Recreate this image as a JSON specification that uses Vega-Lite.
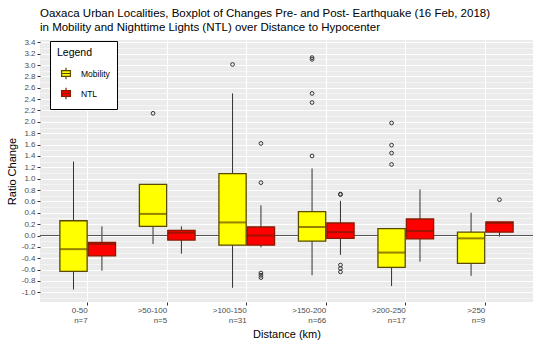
{
  "$schema": "https://vega.github.io/schema/vega-lite/v6.json",
  "width": 493,
  "height": 262,
  "autosize": {"type": "none"},
  "padding": {"left": 40, "top": 40, "right": 17, "bottom": 43},
  "background": "white",
  "title": {
    "text": ["Oaxaca Urban Localities, Boxplot of Changes Pre- and Post- Earthquake (16 Feb, 2018)", "in Mobility and Nighttime Lights (NTL) over Distance to Hypocenter"],
    "anchor": "start",
    "frame": "group",
    "offset": 5,
    "font": "Liberation Sans",
    "fontSize": 11.5,
    "fontWeight": "normal",
    "color": "black",
    "lineHeight": 14
  },
  "config": {
    "view": {"fill": "#EBEBEB", "stroke": null},
    "axis": {
      "labelFont": "Liberation Sans",
      "titleFont": "Liberation Sans",
      "labelColor": "#4D4D4D",
      "labelFontSize": 8,
      "titleFontSize": 11,
      "titleFontWeight": "normal",
      "titleColor": "black",
      "tickColor": "#333333",
      "tickSize": 3,
      "domain": false,
      "gridColor": "white"
    }
  },
  "resolve": {"axis": {"y": "independent"}},
  "datasets": {
    "boxes": [
      {"dist": "0-50", "var": "Mobility", "lower": -0.95, "q1": -0.63, "median": -0.24, "q3": 0.26, "upper": 1.30},
      {"dist": "0-50", "var": "NTL", "lower": -0.62, "q1": -0.36, "median": -0.15, "q3": -0.12, "upper": 0.16},
      {"dist": ">50-100", "var": "Mobility", "lower": -0.15, "q1": 0.16, "median": 0.38, "q3": 0.90, "upper": 0.90},
      {"dist": ">50-100", "var": "NTL", "lower": -0.32, "q1": -0.08, "median": 0.05, "q3": 0.09, "upper": 0.16},
      {"dist": ">100-150", "var": "Mobility", "lower": -0.92, "q1": -0.17, "median": 0.23, "q3": 1.09, "upper": 2.50},
      {"dist": ">100-150", "var": "NTL", "lower": -0.21, "q1": -0.17, "median": 0.0, "q3": 0.15, "upper": 0.53},
      {"dist": ">150-200", "var": "Mobility", "lower": -0.70, "q1": -0.10, "median": 0.15, "q3": 0.42, "upper": 1.18},
      {"dist": ">150-200", "var": "NTL", "lower": -0.34, "q1": -0.05, "median": 0.06, "q3": 0.22, "upper": 0.61},
      {"dist": ">200-250", "var": "Mobility", "lower": -0.89, "q1": -0.56, "median": -0.30, "q3": 0.12, "upper": 0.12},
      {"dist": ">200-250", "var": "NTL", "lower": -0.46, "q1": -0.06, "median": 0.08, "q3": 0.29, "upper": 0.81},
      {"dist": ">250", "var": "Mobility", "lower": -0.71, "q1": -0.49, "median": -0.05, "q3": 0.06, "upper": 0.40},
      {"dist": ">250", "var": "NTL", "lower": -0.02, "q1": 0.06, "median": 0.22, "q3": 0.24, "upper": 0.24}
    ],
    "outliers": [
      {"dist": ">50-100", "var": "Mobility", "value": 2.15},
      {"dist": ">100-150", "var": "Mobility", "value": 3.01},
      {"dist": ">150-200", "var": "Mobility", "value": 3.13},
      {"dist": ">150-200", "var": "Mobility", "value": 3.10},
      {"dist": ">150-200", "var": "Mobility", "value": 2.50},
      {"dist": ">150-200", "var": "Mobility", "value": 2.34},
      {"dist": ">150-200", "var": "Mobility", "value": 1.40},
      {"dist": ">200-250", "var": "Mobility", "value": 1.98},
      {"dist": ">200-250", "var": "Mobility", "value": 1.59},
      {"dist": ">200-250", "var": "Mobility", "value": 1.45},
      {"dist": ">200-250", "var": "Mobility", "value": 1.25},
      {"dist": ">100-150", "var": "NTL", "value": 1.62},
      {"dist": ">100-150", "var": "NTL", "value": 0.93},
      {"dist": ">100-150", "var": "NTL", "value": -0.66},
      {"dist": ">100-150", "var": "NTL", "value": -0.70},
      {"dist": ">100-150", "var": "NTL", "value": -0.74},
      {"dist": ">150-200", "var": "NTL", "value": 0.72},
      {"dist": ">150-200", "var": "NTL", "value": 0.73},
      {"dist": ">150-200", "var": "NTL", "value": -0.52},
      {"dist": ">150-200", "var": "NTL", "value": -0.58},
      {"dist": ">150-200", "var": "NTL", "value": -0.64},
      {"dist": ">250", "var": "NTL", "value": 0.63}
    ]
  },
  "layer": [
    {
      "data": {"name": "boxes"},
      "mark": {"type": "rule", "color": "#333333", "strokeWidth": 1},
      "encoding": {
        "x": {"field": "dist", "type": "nominal", "sort": ["0-50", ">50-100", ">100-150", ">150-200", ">200-250", ">250"]},
        "xOffset": {"field": "var", "type": "nominal"},
        "y": {
          "field": "lower", "type": "quantitative",
          "scale": {"domain": [-1.17, 3.44], "nice": false, "zero": false},
          "axis": {
            "title": "Ratio Change",
            "values": [-1.0, -0.8, -0.6, -0.4, -0.2, 0.0, 0.2, 0.4, 0.6, 0.8, 1.0, 1.2, 1.4, 1.6, 1.8, 2.0, 2.2, 2.4, 2.6, 2.8, 3.0, 3.2, 3.4],
            "labelExpr": "(datum.value < -0.001 ? '-' : '') + format(abs(datum.value), '.1f')",
            "labelOverlap": false,
            "labelFlush": false,
            "labelBound": false,
            "grid": true,
            "gridWidth": 1,
            "labelPadding": 2,
            "titlePadding": 4
          }
        },
        "y2": {"field": "upper"}
      }
    },
    {
      "data": {"values": [{}]},
      "mark": {"type": "rule", "color": "#555555", "strokeWidth": 1},
      "encoding": {
        "y": {
          "datum": 0, "type": "quantitative",
          "axis": {
            "orient": "right",
            "title": null,
            "labels": false,
            "ticks": false,
            "domain": false,
            "grid": true,
            "gridWidth": 0.5,
            "values": [-1.1, -0.9, -0.7, -0.5, -0.3, -0.1, 0.1, 0.3, 0.5, 0.7, 0.9, 1.1, 1.3, 1.5, 1.7, 1.9, 2.1, 2.3, 2.5, 2.7, 2.9, 3.1, 3.3]
          }
        }
      }
    },
    {
      "data": {"name": "boxes"},
      "mark": {"type": "bar", "strokeWidth": 1.3, "width": {"band": 1}},
      "encoding": {
        "x": {
          "field": "dist", "type": "nominal", "sort": ["0-50", ">50-100", ">100-150", ">150-200", ">200-250", ">250"],
          "scale": {"domain": ["0-50", ">50-100", ">100-150", ">150-200", ">200-250", ">250"], "paddingInner": 0, "paddingOuter": 0.1},
          "axis": {
            "title": "Distance (km)",
            "labelAngle": 0,
            "grid": true,
            "gridWidth": 1,
            "bandPosition": 0.5,
            "labelPadding": 5,
            "titlePadding": 4,
            "labelLineHeight": 10,
            "labelExpr": "[datum.value, {'0-50': 'n=7', '>50-100': 'n=5', '>100-150': 'n=31', '>150-200': 'n=66', '>200-250': 'n=17', '>250': 'n=9'}[datum.value]]"
          }
        },
        "xOffset": {"field": "var", "type": "nominal", "scale": {"domain": ["Mobility", "NTL"], "paddingInner": 0.04, "paddingOuter": 0.42}},
        "y": {"field": "q1", "type": "quantitative", "axis": null},
        "y2": {"field": "q3"},
        "fill": {
          "field": "var", "type": "nominal",
          "scale": {"domain": ["Mobility", "NTL"], "range": ["#FFFF00", "#FF0000"]},
          "legend": {
            "title": "Legend",
            "orient": "none",
            "legendX": 10,
            "legendY": 1,
            "fillColor": "white",
            "strokeColor": "black",
            "padding": 7,
            "titleFont": "Liberation Sans",
            "titleFontSize": 10.5,
            "titleFontWeight": "normal",
            "titleColor": "black",
            "titlePadding": 6,
            "labelFont": "Liberation Sans",
            "labelFontSize": 8.5,
            "labelColor": "black",
            "labelOffset": 6,
            "symbolType": "M-0.55,-0.35H0.55V0.35H-0.55Z M0,-0.35V-0.7 M0,0.35V0.7 M-0.55,0H0.55",
            "symbolSize": 260,
            "symbolStrokeWidth": 1.2,
            "rowPadding": 2,
            "encode": {
              "symbols": {
                "update": {
                  "fill": {"signal": "datum.value == 'NTL' ? '#8B2E10' : '#FFFF00'"},
                  "stroke": {"signal": "datum.value == 'NTL' ? '#3A1A00' : '#3A3000'"}
                }
              }
            }
          }
        },
        "stroke": {
          "field": "var", "type": "nominal",
          "scale": {"domain": ["Mobility", "NTL"], "range": ["#5A4A00", "#8B1A00"]},
          "legend": null
        }
      }
    },
    {
      "data": {"name": "boxes"},
      "mark": {"type": "tick", "orient": "horizontal", "size": 27, "thickness": 2},
      "encoding": {
        "x": {"field": "dist", "type": "nominal", "sort": ["0-50", ">50-100", ">100-150", ">150-200", ">200-250", ">250"]},
        "xOffset": {"field": "var", "type": "nominal"},
        "y": {"field": "median", "type": "quantitative", "axis": null},
        "color": {
          "field": "var", "type": "nominal",
          "scale": {"domain": ["Mobility", "NTL"], "range": ["#6B4A00", "#7A1A00"]},
          "legend": null
        }
      }
    },
    {
      "data": {"name": "outliers"},
      "mark": {"type": "point", "shape": "circle", "filled": false, "size": 14, "color": "#333333", "strokeWidth": 1, "opacity": 1},
      "encoding": {
        "x": {"field": "dist", "type": "nominal", "sort": ["0-50", ">50-100", ">100-150", ">150-200", ">200-250", ">250"]},
        "xOffset": {"field": "var", "type": "nominal"},
        "y": {"field": "value", "type": "quantitative", "axis": null}
      }
    }
  ]
}
